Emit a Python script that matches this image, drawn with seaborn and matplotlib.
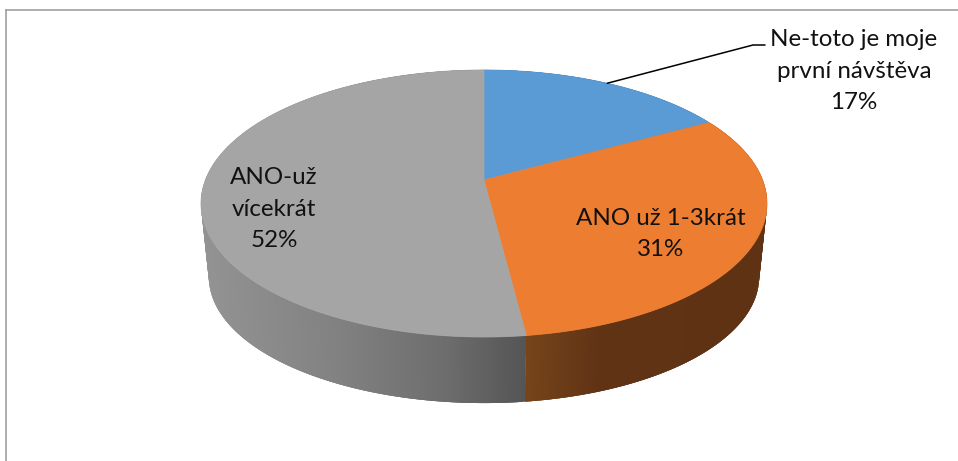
import numpy as np
import matplotlib
matplotlib.use("Agg")
import matplotlib.pyplot as plt
import matplotlib.colors as mcolors
import seaborn as sns

### Donnees
categories = ["Ne-toto je moje\nprvní návštěva", "ANO už 1-3krát", "ANO-už\nvícekrát"]
percents = [17, 31, 52]
colors = ["#5b9bd5", "#ed7d31", "#a5a5a5"]
wall_stops = [
    [(480, "#41688f"), (700, "#36587a")],
    [(527, "#76441a"), (600, "#603315"), (770, "#5e3213")],
    [(200, "#939393"), (330, "#828282"), (440, "#6e6e6e"), (527, "#545454")],
]
label_pos = [(854, 71), (661, 234), (274, 209)]

sns.set_theme(style="white")
plt.rcParams["font.family"] = ["Lato", "DejaVu Sans"]

### Perspective du disque
cx = 484
top_cy, bottom_cy = 180, 255
top_a, top_b = 278.6, 129.4
bottom_a, bottom_b = 270.8, 122
k = 0.176


def project(theta, a, b, cy):
    x = np.sin(theta)
    y = -np.cos(theta)
    w = 1 - k * y
    return cx + a * x / w, cy + b * y / w


def wall_color(stops, x):
    xs = [s[0] for s in stops]
    rgb = np.array([mcolors.to_rgb(s[1]) for s in stops])
    return [np.interp(x, xs, rgb[:, i]) for i in range(3)]


fig = plt.figure(figsize=(9.58, 4.61), dpi=100)
ax = fig.add_axes([6 / 958, 0, 952 / 958, 451 / 461])
ax.set_xlim(6, 958)
ax.set_ylim(461, 10)
ax.set_xticks([])
ax.set_yticks([])
sns.despine(ax=ax, top=False, right=True, left=False, bottom=True)
for side in ["top", "left"]:
    ax.spines[side].set_color("#a0a0a0")
    ax.spines[side].set_linewidth(1.2)

edges = np.cumsum([0] + percents) / sum(percents) * 2 * np.pi

### Parois (chaque bande recouvre la suivante pour eviter les joints)
for i in range(len(percents)):
    steps = np.linspace(edges[i], edges[i + 1], int(percents[i] * 12) + 2)
    for j in range(len(steps) - 1):
        t1 = steps[min(j + 3, len(steps) - 1)]
        tt = np.linspace(steps[j], t1, 4)
        x1, y1 = project(tt, top_a, top_b, top_cy)
        x2, y2 = project(tt[::-1], bottom_a, bottom_b, bottom_cy)
        c = wall_color(wall_stops[i], x1.mean())
        ax.fill(np.r_[x1, x2], np.r_[y1, y2], color=c, lw=0, zorder=2 + j * 1e-4)

### Parts
for i in range(len(percents)):
    tt = np.linspace(edges[i], edges[i + 1], 200)
    x, y = project(tt, top_a, top_b, top_cy)
    ax.fill(np.r_[cx, x], np.r_[top_cy, y], color=colors[i], lw=0.5, zorder=3)

### Etiquettes
for name, pct, (lx, ly) in zip(categories, percents, label_pos):
    ax.text(lx, ly, f"{name}\n{pct}%", ha="center", va="center", fontsize=17.4,
            color="#111111", linespacing=1.64, zorder=5)

mid = (edges[0] + edges[1]) / 2
mx, my = project(mid, top_a, top_b, top_cy)
ax.plot([mx, 753, 765], [my, 45, 45], color="black", lw=1.1, zorder=4)

fig.savefig("out.png", dpi=100)
